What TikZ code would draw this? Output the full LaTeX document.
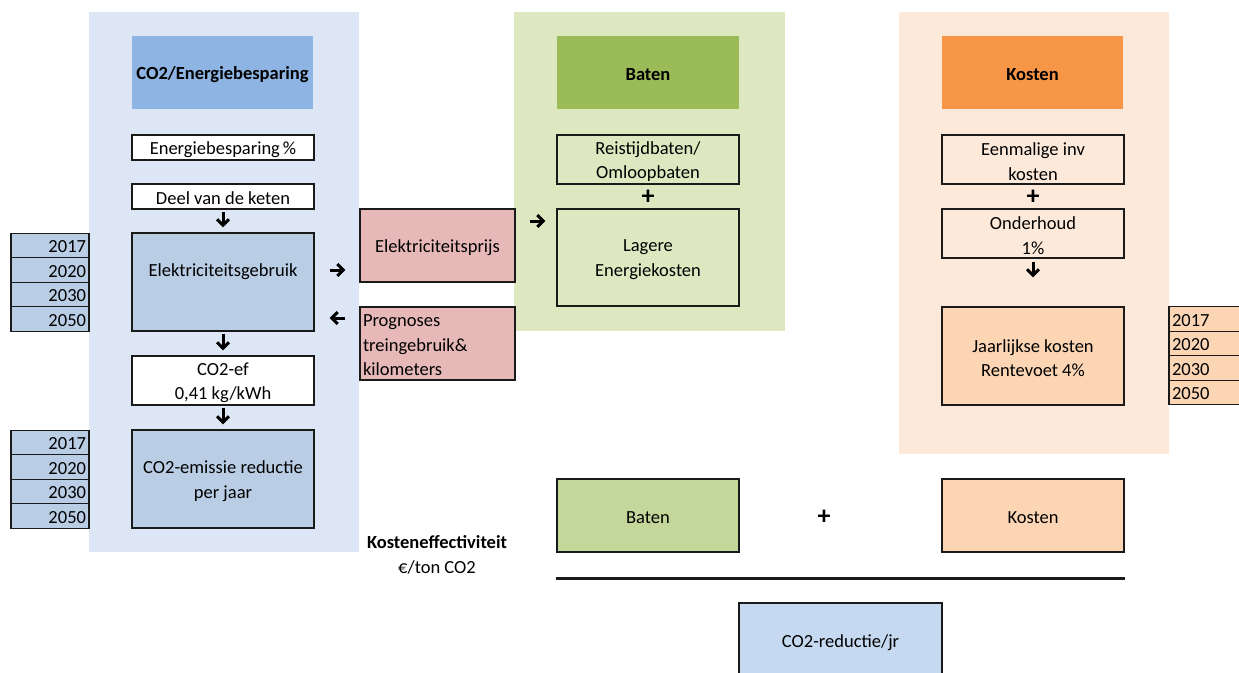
\documentclass[tikz,border=0pt]{standalone}
\usepackage{fontspec}
\setmainfont{Carlito}
\usetikzlibrary{arrows.meta}
\definecolor{pblue}{HTML}{DDE6F5}
\definecolor{hblue}{HTML}{8DB4E3}
\definecolor{bblue}{HTML}{B9CDE5}
\definecolor{pgreen}{HTML}{DDE8C1}
\definecolor{hgreen}{HTML}{9BBB59}
\definecolor{bgreen}{HTML}{C4D79B}
\definecolor{porange}{HTML}{FDE9D9}
\definecolor{horange}{HTML}{F79646}
\definecolor{borange}{HTML}{FCD5B4}
\definecolor{pink}{HTML}{E6B9B8}
\definecolor{cblue}{HTML}{C5D9F1}
\definecolor{edge}{HTML}{1A1A1A}
\tikzset{
  txt/.style={font=\fontsize{18.5}{24.5}\selectfont, text=black},
  lbl/.style={txt, align=center, inner sep=0pt, yshift=-2pt},
  blbl/.style={lbl, font=\fontsize{18.5}{24.5}\selectfont\bfseries},
  bx/.style={draw=edge, line width=1.2pt, inner sep=0pt, minimum width=182pt},
  hdr/.style={inner sep=0pt, minimum width=181pt, minimum height=73pt},
  yr/.style={draw=edge, line width=1.2pt, inner sep=0pt, minimum width=78pt, minimum height=24.5pt},
  ylbl/.style={txt, inner sep=0pt, text width=72pt, yshift=-1.5pt},
  arr/.style={line width=3pt, -{Straight Barb[length=6pt,width=12pt]}},
  plus/.style={text=black, font=\fontsize{26}{26}\selectfont\bfseries, inner sep=0pt}
}
\begin{document}
\begin{tikzpicture}[x=1pt,y=-1pt]
\clip (0,0) rectangle (1239,672);
\fill[white] (0,0) rectangle (1239,672);
% panels
\fill[pblue] (89,12) rectangle (359,552);
\fill[pgreen] (514,12) rectangle (785,331);
\fill[porange] (899,12) rectangle (1169,454);

% left column
\node[hdr, fill=hblue, label={[blbl]center:CO2/Energiebesparing}] (h1) at (222.5,72.5) {};
\node[bx, fill=white, minimum height=25pt, label={[lbl]center:Energiebesparing\,\%}] (eb) at (223,147.5) {};
\node[bx, fill=white, minimum height=25pt, label={[lbl]center:Deel van de keten}] (dk) at (223,196.5) {};
\node[bx, fill=bblue, minimum height=98pt, label={[lbl]center:\strut Elektriciteitsgebruik\\\strut}] (eg) at (223,282) {};
\node[bx, fill=white, minimum height=49pt, label={[lbl]center:CO2-ef\\0,41 kg/kWh}] (ce) at (223,380.5) {};
\node[bx, fill=bblue, minimum height=98pt, label={[lbl]center:CO2-emissie reductie\\per jaar}] (cr) at (223,479) {};

\foreach \n/\y/\t in {ya1/245.5/2017, ya2/270/2020, ya3/294.5/2030, ya4/319/2050,
                      yb1/442.5/2017, yb2/467/2020, yb3/491.5/2030, yb4/516/2050}
  \node[yr, fill=bblue, label={[ylbl, align=right]center:\t}] (\n) at (50,\y) {};

\draw[arr] ([yshift=-2pt]dk.south) -- ([yshift=5pt]eg.north);
\draw[arr] ([yshift=-2pt]eg.south) -- ([yshift=5pt]ce.north);
\draw[arr] ([yshift=-2pt]ce.south) -- ([yshift=5pt]cr.north);

% pink
\node[bx, fill=pink, minimum width=155pt, minimum height=73pt, label={[lbl]center:Elektriciteitsprijs}] (ep) at (437.5,245.5) {};
\node[bx, fill=pink, minimum width=155pt, minimum height=73pt, label={[lbl, text width=149pt, align=left]center:Prognoses\\treingebruik\&\\kilometers}] (pr) at (437.5,343.5) {};

\draw[arr] ([xshift=15pt,yshift=12pt]eg.east) -- ([xshift=-14pt,yshift=-24.5pt]ep.west);
\draw[arr] ([xshift=-14pt,yshift=25.5pt]pr.west) -- ([xshift=15pt,yshift=-36pt]eg.east);

% green column
\node[hdr, fill=hgreen, minimum width=182pt, label={[blbl]center:Baten}] (h2) at (648,72.5) {};
\node[bx, minimum height=49pt, label={[lbl]center:Reistijdbaten/\\Omloopbaten}] (rb) at (648,159.5) {};
\node[plus] (p1) at (648,197) {+};
\node[bx, minimum height=97pt, label={[lbl]center:Lagere\\Energiekosten}] (le) at (648,257.5) {};
\draw[arr] ([xshift=14pt,yshift=24.5pt]ep.east) -- ([xshift=-11pt,yshift=36.5pt]le.west);

% orange column
\node[hdr, fill=horange, label={[blbl]center:Kosten}] (h3) at (1032.5,72.5) {};
\node[bx, minimum height=49pt, label={[lbl]center:Eenmalige inv\\kosten}] (ei) at (1033,159.5) {};
\node[plus] (p2) at (1033,197) {+};
\node[bx, minimum height=49pt, label={[lbl]center:Onderhoud\\1\%}] (oh) at (1033,233.5) {};
\node[bx, fill=borange, minimum height=98pt, label={[lbl]center:Jaarlijkse kosten\\Rentevoet 4\%}] (jk) at (1033,356) {};
\draw[arr] ([yshift=-3pt]oh.south) -- ([yshift=29pt]jk.north);

\foreach \n/\y/\t in {yc1/319/2017, yc2/343.5/2020, yc3/368/2030, yc4/392.5/2050}
  \node[yr, fill=borange, label={[ylbl, align=left]center:\t}] (\n) at (1208,\y) {};

% bottom
\node[bx, fill=bgreen, minimum height=73pt, label={[lbl]center:Baten}] (bb) at (648,515.5) {};
\node[plus] (p3) at (824,517) {+};
\node[bx, fill=borange, minimum height=73pt, label={[lbl]center:Kosten}] (bk) at (1033,515.5) {};
\draw[line width=2.5pt, edge] ([yshift=-26pt]bb.south west) -- ([yshift=-26pt]bk.south east);
\node[bx, fill=cblue, minimum width=203pt, minimum height=76pt, label={[lbl]center:CO2-reductie/jr}] (co) at (840.5,641) {};

\node[txt, font=\fontsize{18.5}{24.5}\selectfont\bfseries, inner sep=0pt] (ke) at (437,542) {Kosteneffectiviteit};
\node[txt, inner sep=0pt] (et) at (437,567) {€/ton CO2};
\end{tikzpicture}
\end{document}
